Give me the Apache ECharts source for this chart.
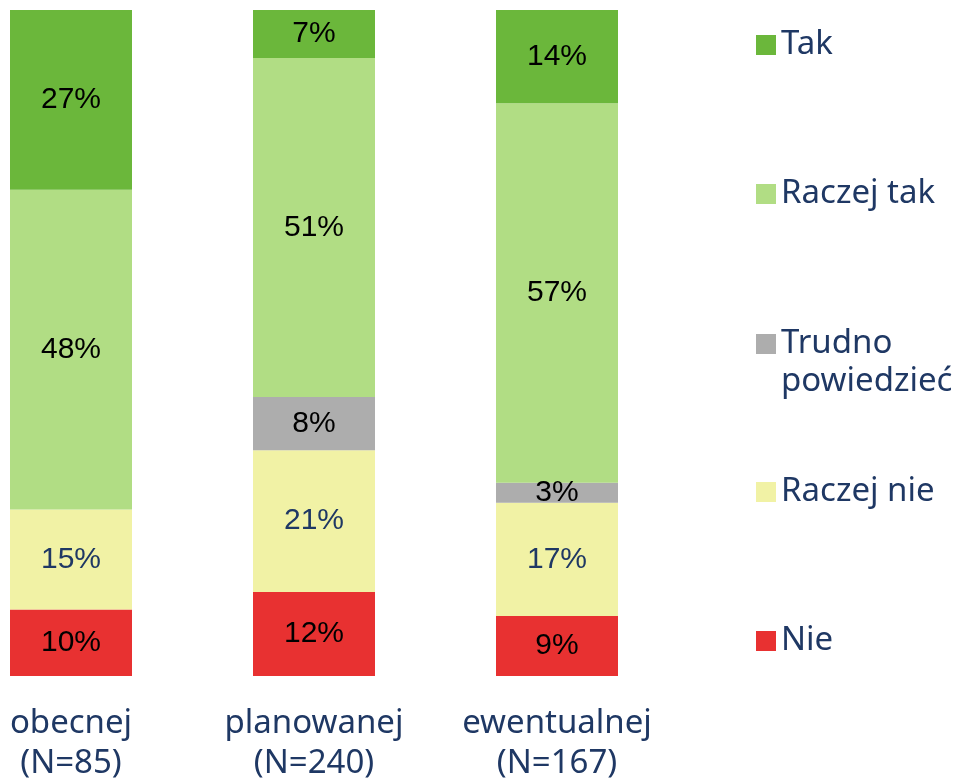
<!DOCTYPE html>
<html>
<head>
<meta charset="utf-8">
<script src="https://cdn.jsdelivr.net/npm/echarts@6/dist/echarts.min.js"></script>
<style>
  html, body { margin: 0; padding: 0; background: #fff; }
  #chart { width: 959px; height: 779px; }
</style>
</head>
<body>
<div id="chart"></div>
<script>
// dane (wysokości segmentów w %)
const categories = ['obecnej\n(N=85)', 'planowanej\n(N=240)', 'ewentualnej\n(N=167)'];
const nie = [10, 12.6, 9];
const raczejNie = [15, 21.3, 17];
const trudno = [0, 8, 3];
const raczejTak = [48, 50.9, 57];
const tak = [27, 7.2, 14];
// etykiety wyświetlane na słupkach
const nieLbl = ['10%', '12%', '9%'];
const raczejNieLbl = ['15%', '21%', '17%'];
const trudnoLbl = ['', '8%', '3%'];
const raczejTakLbl = ['48%', '51%', '57%'];
const takLbl = ['27%', '7%', '14%'];

const navy = '#1F3864';
const font = '"Noto Sans", "Open Sans", sans-serif';

function seg(name, data, labels, color, labelColor) {
  return {
    name: name,
    type: 'bar',
    stack: 'all',
    barWidth: 122,
    clip: false,
    data: data.map(v => v === 0 ? null : v),
    itemStyle: { color: color },
    label: {
      show: true,
      position: 'inside',
      formatter: p => labels[p.dataIndex],
      color: labelColor,
      fontSize: 30,
      fontFamily: 'Liberation Sans, Arial, sans-serif'
    },
    emphasis: { disabled: true }
  };
}

function legendItem(name, top, extra) {
  return Object.assign({
    data: [name],
    left: 756,
    top: top,
    padding: 0,
    orient: 'vertical',
    icon: 'rect',
    itemWidth: 20,
    itemHeight: 20,
    selectedMode: false,
    textStyle: { color: navy, fontSize: 33, fontFamily: font, lineHeight: 38 }
  }, extra || {});
}

const chart = echarts.init(document.getElementById('chart'));
chart.setOption({
  animation: false,
  grid: { left: 71, width: 486, top: 10, bottom: 103, outerBoundsMode: 'none', containLabel: false },
  xAxis: {
    type: 'category',
    data: categories,
    boundaryGap: false,
    axisLine: { show: false },
    axisTick: { show: false },
    axisLabel: {
      interval: 0,
      margin: 28,
      color: navy,
      fontSize: 33,
      lineHeight: 40,
      fontFamily: font
    }
  },
  yAxis: { type: 'value', min: 0, max: 100, show: false },
  legend: [
    legendItem('Tak', 26),
    legendItem('Raczej tak', 175),
    legendItem('Trudno powiedzieć', 287, {
      formatter: ' \nTrudno\npowiedzieć'
    }),
    legendItem('Raczej nie', 473),
    legendItem('Nie', 622)
  ],
  series: [
    seg('Nie', nie, nieLbl, '#E83131', '#000'),
    seg('Raczej nie', raczejNie, raczejNieLbl, '#F1F2A5', navy),
    seg('Trudno powiedzieć', trudno, trudnoLbl, '#ADADAD', '#000'),
    seg('Raczej tak', raczejTak, raczejTakLbl, '#B1DD84', '#000'),
    seg('Tak', tak, takLbl, '#6BB73B', '#000')
  ]
});
</script>
</body>
</html>
